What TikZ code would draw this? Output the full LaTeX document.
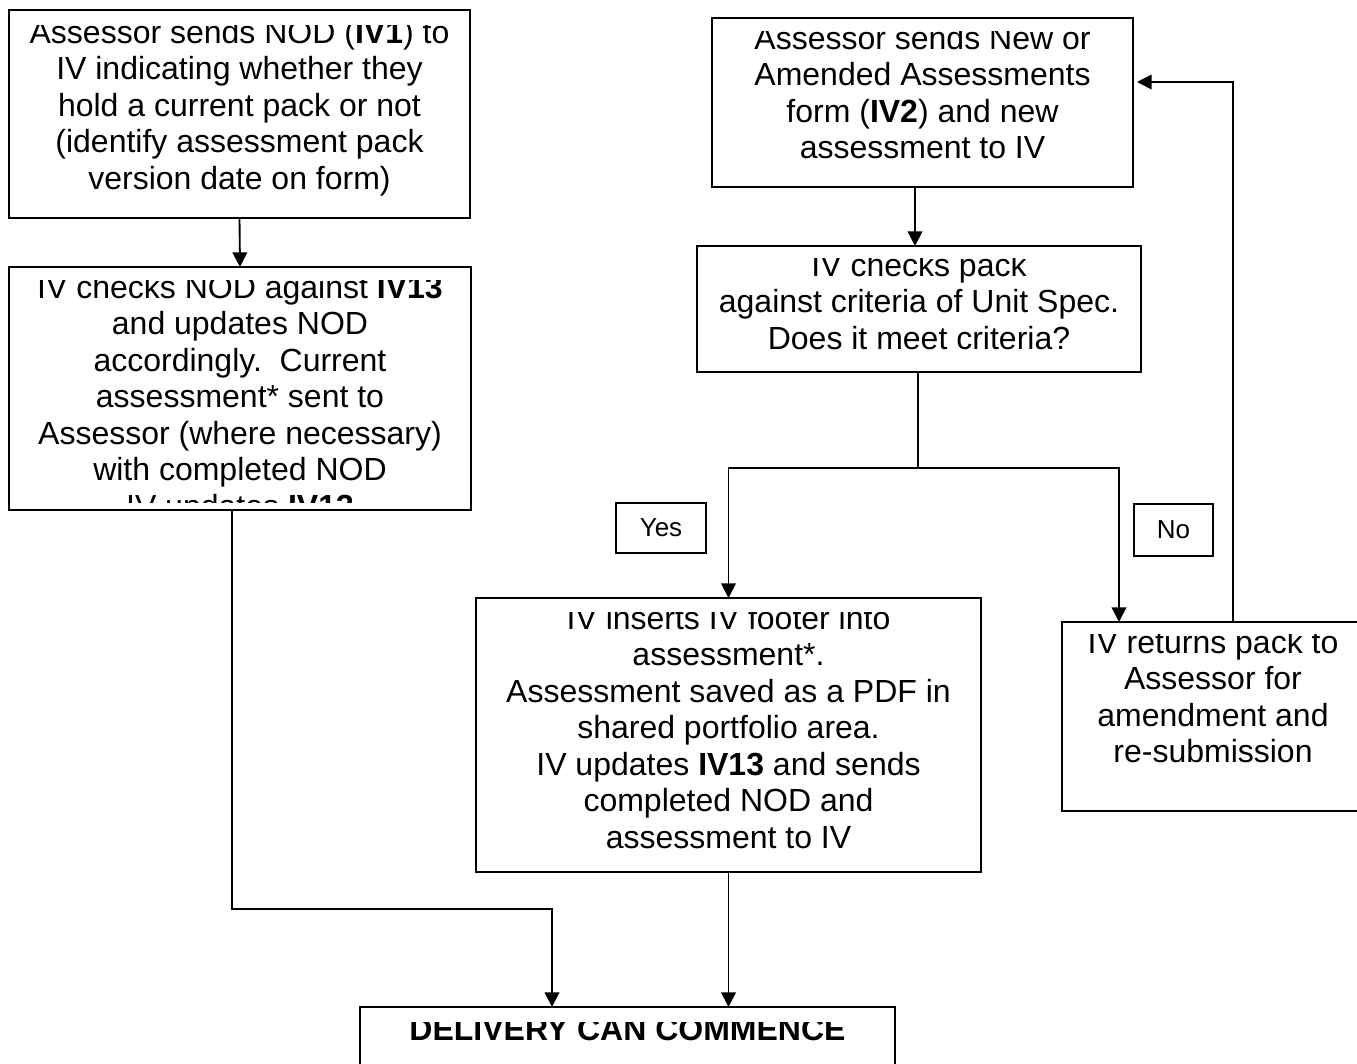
\documentclass[tikz,border=0pt]{standalone}
\usepackage{fontspec}
\setmainfont{Liberation Sans}
\usetikzlibrary{positioning,arrows.meta,calc}
\def\px{0.75pt}
\newcommand{\topstrut}{\rule{0pt}{18pt}}

\begin{document}
\begin{tikzpicture}[x=0.75pt,y=-0.75pt,
  box/.style={draw,line width=1.2pt,inner sep=0pt,outer sep=0pt,anchor=north west},
  txt/.style={align=center,inner sep=0pt,anchor=north,font=\fontsize{24}{27.4}\selectfont},
  tag/.style={draw,line width=1pt,inner sep=0pt,outer sep=0pt,anchor=north west,
    font=\fontsize{19.5}{22}\selectfont},
  conn/.style={line width=1.4pt},
  arr/.style={conn,-{Triangle[length=11pt,width=11pt]}}]
\useasboundingbox (0,0) rectangle (1357,1064);

% ================= boxes =================
\node[box,minimum width={461*\px},minimum height={208*\px}] (nodA) at (9,10) {};
\node[box,minimum width={462*\px},minimum height={243*\px}] (nodB) at (9,267) {};
\node[box,minimum width={421*\px},minimum height={169*\px}] (nodC) at (712,18) {};
\node[box,minimum width={444*\px},minimum height={126*\px}] (nodD) at (697,246) {};
\node[box,minimum width={505*\px},minimum height={274*\px}] (nodE) at (476,598) {};
\node[box,minimum width={302*\px},minimum height={189*\px}] (nodF) at (1062,622) {};
\node[box,minimum width={535*\px},minimum height={90*\px}] (nodG) at (360,1007) {};
\node[tag,minimum width={90*\px},minimum height={50*\px}] (yes) at (616,503) {Yes};
\node[tag,minimum width={79*\px},minimum height={52*\px}] (no) at (1134,504) {No};

% ================= texts, cut off by the text area as in the original =================
\begin{scope}
  \clip (9,25) rectangle (471,211);
  \node[txt] (tA) at (239.5,19) {\topstrut Assessor sends NOD (\textbf{IV1}) to\\
    IV indicating whether they\\ hold a current pack or not\\
    (identify assessment pack\\ version date on form)};
\end{scope}
\begin{scope}
  \clip (9,280) rectangle (471,502);
  \node[txt] (tB) at (240,274) {\topstrut IV checks NOD against \textbf{IV13}\\
    and updates NOD\\ accordingly.\ \ Current\\ assessment* sent to\\
    Assessor (where necessary)\\ with completed NOD\\ IV updates \textbf{IV13}};
\end{scope}
\begin{scope}
  \clip (712,31) rectangle (1133,180);
  \node[txt] (tC) at (922.5,25) {\topstrut Assessor sends New or\\
    Amended Assessments\\ form (\textbf{IV2}) and new\\ assessment to IV};
\end{scope}
\begin{scope}
  \clip (697,258) rectangle (1141,365);
  \node[txt] (tD) at (919,252) {\topstrut IV checks pack\\
    against criteria of Unit Spec.\\ Does it meet criteria?};
\end{scope}
\begin{scope}
  \clip (476,612) rectangle (981,865);
  \node[txt] (tE) at (728.5,605) {\topstrut IV inserts IV footer into\\
    assessment*.\\ Assessment saved as a PDF in\\ shared portfolio area.\\
    IV updates \textbf{IV13} and sends\\ completed NOD and\\ assessment to IV};
\end{scope}
\begin{scope}
  \clip (1062,634) rectangle (1364,804);
  \node[txt] (tF) at (1213,629) {\topstrut IV returns pack to\\
    Assessor for\\ amendment and\\ re-submission};
\end{scope}
\begin{scope}
  \clip (360,1022) rectangle (895,1090);
  \node[txt] (tG) at (627.5,1016) {\topstrut\textbf{DELIVERY CAN COMMENCE}};
\end{scope}

% ================= connectors =================
\coordinate (bendL) at (232,909);
\coordinate (bendR) at (552,909);
\coordinate (cdX) at (915,0);
\coordinate (split) at (918,468);
\coordinate (noX) at (1119,468);
\coordinate (ret) at (1233,82);

\draw[arr] (nodA.south) -- (nodB.north);
\draw[arr] (nodB.south -| bendL) -- (bendL) -- (bendR) -- (bendR |- nodG.north);
\draw[arr] (nodE.south) -- (nodE.south |- nodG.north);

\draw[arr] (nodC.south -| cdX) -- (nodD.north -| cdX);
\draw[conn] (nodD.south -| split) -- (split);
\draw[arr] (split) -| (nodE.north);
\draw[arr] (split) -- (noX) -- (noX |- nodF.north);
\draw[arr,shorten >=3pt] (nodF.north -| ret) -- (ret) -- (ret -| nodC.east);
\end{tikzpicture}
\end{document}
